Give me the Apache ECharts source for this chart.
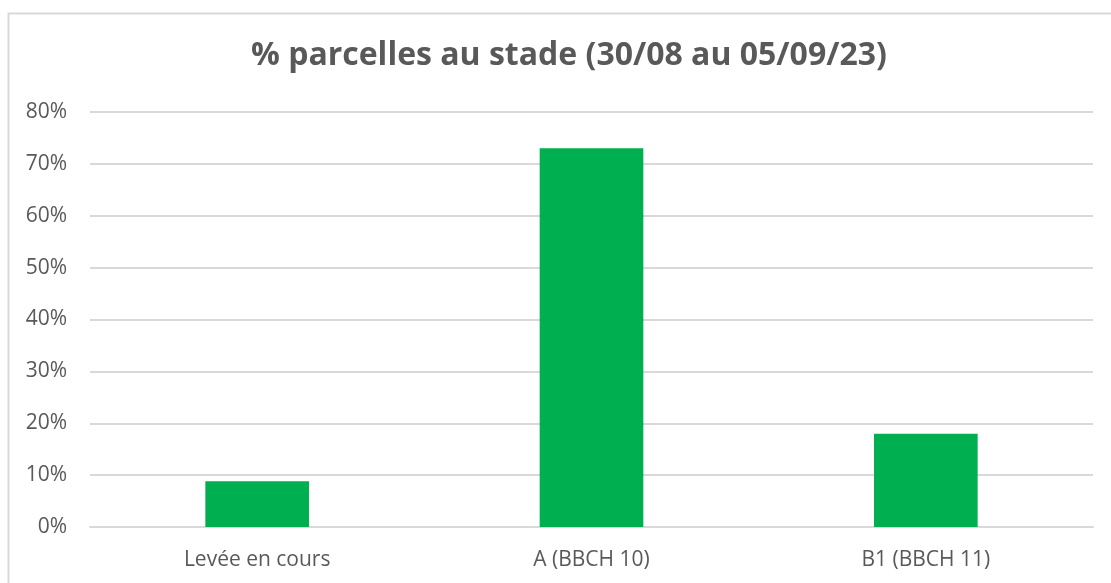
<!DOCTYPE html>
<html>
<head>
<meta charset="utf-8">
<style>
  html, body { margin: 0; padding: 0; background: #fff; }
  #chart { width: 1111px; height: 583px; }
</style>
<script src="https://cdn.jsdelivr.net/npm/echarts@6/dist/echarts.min.js"></script>
</head>
<body>
<div id="chart"></div>
<script>
const titleText = '% parcelles au stade (30/08 au 05/09/23)';
const categories = ['Levée en cours', 'A (BBCH 10)', 'B1 (BBCH 11)'];
const values = [0.088, 0.73, 0.18];

const textColor = '#595959';
const chart = echarts.init(document.getElementById('chart'));

chart.setOption({
  animation: false,
  textStyle: { fontFamily: 'Open Sans, sans-serif' },
  title: {
    text: titleText,
    left: 246,
    top: 35,
    textStyle: { fontSize: 32, fontWeight: 'bold', color: textColor, fontFamily: 'Open Sans, sans-serif' }
  },
  // frame of the chart area (only top and left edges are in view)
  graphic: [{
    type: 'rect',
    shape: { x: 8.5, y: 13.5, width: 1200, height: 700 },
    style: { fill: 'none', stroke: '#d9d9d9', lineWidth: 2 },
    silent: true
  }],
  grid: { left: 90, right: 18, top: 112, bottom: 56, containLabel: false },
  xAxis: {
    type: 'category',
    data: categories,
    axisTick: { show: false },
    axisLine: { lineStyle: { color: '#d9d9d9', width: 2 } },
    axisLabel: { color: textColor, fontSize: 21, margin: 23 }
  },
  yAxis: {
    type: 'value',
    min: 0,
    max: 0.8,
    interval: 0.1,
    axisLine: { show: false },
    axisTick: { show: false },
    splitLine: { lineStyle: { color: '#d9d9d9', width: 2 } },
    axisLabel: {
      color: textColor,
      fontSize: 21,
      margin: 23,
      formatter: v => Math.round(v * 100) + '%'
    }
  },
  series: [{
    type: 'bar',
    data: values,
    barWidth: '31%',
    itemStyle: { color: '#00b050' }
  }]
});
</script>
</body>
</html>
